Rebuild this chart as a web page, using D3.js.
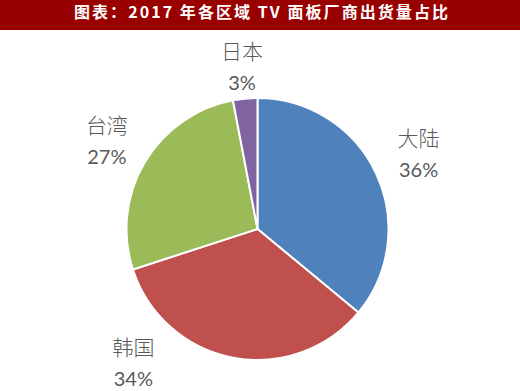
<!DOCTYPE html>
<html><head><meta charset="utf-8">
<script src="https://cdn.jsdelivr.net/npm/d3@7"></script>
<style>html,body{margin:0;padding:0;background:#fff;}svg{display:block;}</style>
</head><body>
<svg id="chart" width="520" height="391"></svg>
<script>
const title = "图表：2017 年各区域 TV 面板厂商出货量占比";
const categories = ["大陆", "韩国", "台湾", "日本"];
const values = [36, 34, 27, 3];
const colors = ["#4F81BD", "#C0504D", "#9BBB59", "#8064A2"];

const W = 520, H = 391;
const svg = d3.select("#chart");

// title bar
svg.append("rect").attr("x", 0).attr("y", 0).attr("width", W).attr("height", 30).attr("fill", "#990000");
svg.append("text").attr("x", 261).attr("y", 14)
  .attr("text-anchor", "middle").attr("dominant-baseline", "middle")
  .attr("fill", "#fff").attr("font-family", "'Noto Sans CJK SC', sans-serif")
  .attr("font-weight", "bold").attr("font-size", 16)
  .attr("textLength", 374).attr("lengthAdjust", "spacing")
  .text(title);

const cx = 257.5, cy = 229, R = 131;
const data = categories.map((c, i) => ({cat: c, value: values[i], color: colors[i]}));
const pie = d3.pie().sort(null).value(d => d.value);
const arcs = pie(data);
const arc = d3.arc().innerRadius(0).outerRadius(R);

const g = svg.append("g").attr("transform", `translate(${cx},${cy})`);
g.selectAll("path").data(arcs).enter().append("path")
  .attr("d", arc).attr("fill", d => d.data.color)
  .attr("stroke", "#fff").attr("stroke-width", 2).attr("stroke-linejoin", "round");

// label layout (Excel-like best fit): radius and angle overrides
const labelR = {"大陆": 178, "韩国": 182, "台湾": 175, "日本": 164};
const angleOverride = {"韩国": 223 * Math.PI / 180};
const total = d3.sum(values);
arcs.forEach(a => {
  const ang = angleOverride[a.data.cat] !== undefined ? angleOverride[a.data.cat] : (a.startAngle + a.endAngle) / 2;
  const r = labelR[a.data.cat];
  const x = r * Math.sin(ang), y = -r * Math.cos(ang);
  const t = g.append("text").attr("text-anchor", "middle").attr("fill", "#595959");
  t.append("tspan").attr("x", x).attr("y", y - 7)
    .attr("font-family", "'Noto Sans CJK SC', sans-serif").attr("font-weight", 300)
    .attr("font-size", 21).text(a.data.cat);
  t.append("tspan").attr("x", x).attr("y", y + 24)
    .attr("font-family", "Lato, 'Open Sans', sans-serif")
    .attr("font-size", 20).text(Math.round(a.data.value / total * 100) + "%");
});
</script>
</body></html>
